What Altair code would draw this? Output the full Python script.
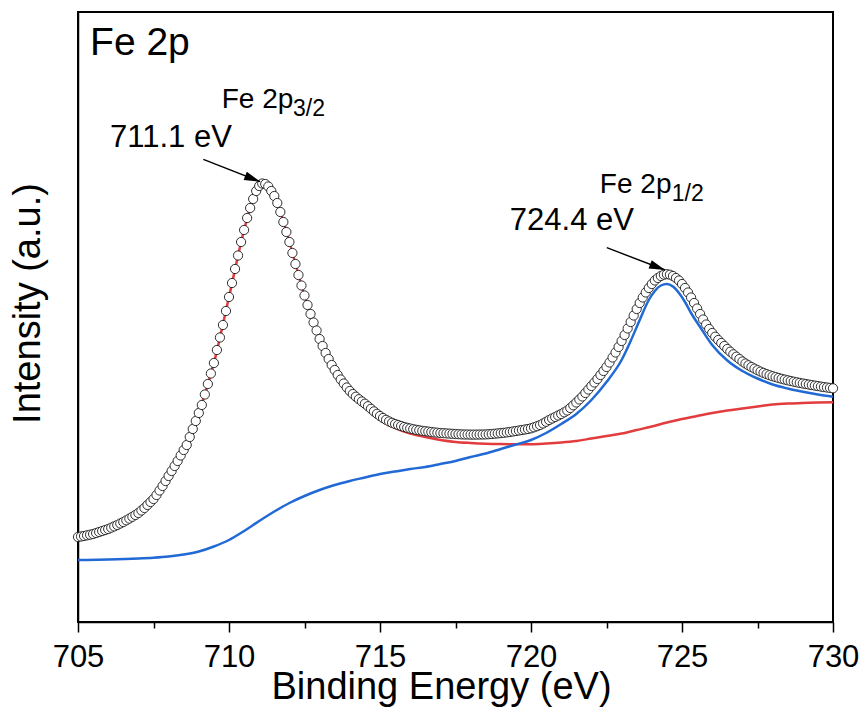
import altair as alt
import pandas as pd

# ---- measured spectrum (open circles), 0.1 eV sampling from 705.0 eV ----
energy_start = 705.0
energy_step = 0.1
intensity = [
    85, 85.5, 86, 86.7, 87.3, 88, 89, 90, 91, 92,                       # 705
    93, 94.3, 95.6, 97, 98.5, 100, 101.7, 103.4, 105.2, 107,            # 706
    109, 111.5, 114, 117, 120, 123, 127, 131.5, 136, 141,               # 707
    146, 151, 156, 161, 166.5, 172, 177, 185, 193, 201,                 # 708
    209, 217, 227.5, 238, 248.5, 259, 272, 284.5, 297, 311,             # 709
    325, 339, 353, 366.5, 380, 392, 404, 414, 423, 431,                 # 710
    436, 438.5, 438, 435.5, 431, 426, 419, 410, 400, 390,               # 711
    380, 369, 358, 347, 336.5, 326.5, 317, 308, 299.5, 291.5,           # 712
    283, 276, 269, 263, 257, 252, 247, 242.5, 238.5, 234.5,             # 713
    231, 228, 225.3, 222.8, 220.5, 218.3, 215.8, 213.2, 210.6, 208.2,   # 714
    206, 204, 202.2, 200.6, 199.2, 198, 197, 196, 195, 194.2,           # 715
    193.5, 192.8, 192.2, 191.7, 191.2, 190.8, 190.4, 190, 189.6, 189.3, # 716
    189, 188.8, 188.6, 188.4, 188.2, 188, 187.8, 187.6, 187.5, 187.5,   # 717
    187.4, 187.4, 187.4, 187.5, 187.5, 187.6, 187.8, 188, 188.3, 188.6, # 718
    188.9, 189.2, 189.6, 190, 190.5, 191, 191.5, 192, 192.5, 193,       # 719
    193.7, 194.7, 195.8, 197, 198.5, 200.2, 202, 203.5, 205, 206.5,     # 720
    208, 209.7, 211.5, 214, 216.7, 219.5, 222.5, 225.5, 229, 232.5,     # 721
    236, 239.5, 243, 247, 251, 255, 259.5, 264.5, 269.5, 275,           # 722
    281, 287, 293.5, 300, 306.5, 313, 319, 324.5, 329.5, 334,           # 723
    338, 341.5, 344, 346, 347.3, 347.8, 347.3, 346, 344, 341.5,         # 724
    338, 334, 329.5, 324.5, 319, 313.5, 308, 302.5, 297.5, 293,         # 725
    289, 285.3, 282, 279, 276, 273, 270.3, 267.7, 265.3, 263,           # 726
    260.5, 258.5, 256.7, 255, 253.4, 251.8, 250.4, 249.1, 247.9, 246.8, # 727
    245.8, 244.9, 244, 243.2, 242.4, 241.7, 241, 240.3, 239.7, 239.1,   # 728
    238.5, 238, 237.4, 236.9, 236.4, 235.9, 235.4, 234.9, 234.5, 234.1, # 729
    233.7,                                                              # 730
]
energy = [round(energy_start + energy_step * i, 1) for i in range(len(intensity))]

# ---- red fitted curve ----
red_energy = [705, 706, 707, 707.5, 708, 708.5, 709, 709.5, 710, 710.5,
              710.8, 711.0, 711.2, 711.4, 711.7, 712, 712.5, 713, 713.5, 714,
              714.5, 715, 715.5, 716, 716.5, 717, 717.5, 718, 718.5, 719,
              719.5, 720, 720.5, 721, 721.5, 722, 722.5, 723, 723.5, 724,
              724.5, 725, 725.5, 726, 726.5, 727, 727.5, 728, 728.5, 729,
              729.5, 730]
red_value = [85, 93, 109, 123, 146, 172, 209, 259, 325, 392,
             423, 436, 438, 431, 410, 380, 326.5, 283, 252, 230,
             216, 202, 194, 188.5, 185, 182, 180, 179, 178.3, 177.9,
             177.7, 177.8, 178.5, 179.5, 181, 183.5, 186, 188.5, 192, 195.5,
             199.5, 203, 206, 209, 211.5, 213.5, 215.5, 217.5, 218.5, 219,
             219.5, 219.8]

# ---- blue fitted curve ----
blue_energy = [705, 706, 707, 707.5, 708, 708.5, 709, 709.5, 710, 710.5,
               711, 711.5, 712, 712.5, 713, 713.5, 714, 714.5, 715, 715.5,
               716, 716.5, 717, 717.5, 718, 718.5, 719, 719.5, 720, 720.5,
               721, 721.5, 722, 722.5, 723, 723.3, 723.6, 723.9, 724.1, 724.3,
               724.5, 724.7, 724.9, 725.1, 725.3, 725.6, 726, 726.5, 727, 727.5,
               728, 728.5, 729, 729.5, 730]
blue_value = [62, 62.5, 63.5, 64.3, 65.5, 67.5, 70.5, 75.5, 82, 91,
              101, 110.5, 119, 126, 132, 137, 141, 144.5, 148, 150.5,
              153, 155, 158, 161, 165, 168.5, 173, 177.5, 182, 189,
              198, 208, 222, 240, 262, 281, 302, 322, 331, 336.5,
              338, 335.5, 329, 320, 309, 295, 277, 261.5, 251, 243.5,
              237.5, 233.5, 230.3, 227.5, 225.3]

# ---- axis ticks ----
major_ticks = [705, 710, 715, 720, 725, 730]
minor_ticks = [707.5, 712.5, 717.5, 722.5, 727.5]

# ---- annotations (data coordinates) ----
panel_label = ["Fe 2p"]
panel_label_E = [705.4]
panel_label_I = [567]

peak_name = ["Fe 2p", "Fe 2p"]
peak_name_E = [709.76, 722.28]
peak_name_I = [513.7, 428.7]

peak_sub = ["3/2", "1/2"]
peak_sub_E = [712.12, 724.66]
peak_sub_I = [506.5, 421.5]

peak_ev = ["711.1 eV", "724.4 eV"]
peak_ev_E = [706.06, 719.30]
peak_ev_I = [475.3, 392]

arrow_E0 = [709.15, 722.51]
arrow_I0 = [462.7, 374.3]
arrow_E1 = [711.03, 724.44]
arrow_I1 = [440.3, 352]
arrow_angle = [21.5, 20.9]

FONT = "Liberation Sans"
RED = "#E23C3E"
BLUE = "#2169D4"

data_df = pd.DataFrame({"E": energy, "I": intensity})
red_df = pd.DataFrame({"E": red_energy, "I": red_value})
blue_df = pd.DataFrame({"E": blue_energy, "I": blue_value})
arrow_df = pd.DataFrame({"E0": arrow_E0, "I0": arrow_I0, "E1": arrow_E1,
                         "I1": arrow_I1, "a": arrow_angle})
panel_df = pd.DataFrame({"E": panel_label_E, "I": panel_label_I, "t": panel_label})
name_df = pd.DataFrame({"E": peak_name_E, "I": peak_name_I, "t": peak_name})
sub_df = pd.DataFrame({"E": peak_sub_E, "I": peak_sub_I, "t": peak_sub})
ev_df = pd.DataFrame({"E": peak_ev_E, "I": peak_ev_I, "t": peak_ev})

xs = alt.Scale(domain=[705, 730], nice=False, zero=False)
ys = alt.Scale(domain=[0, 610], nice=False, zero=False)

major_axis = alt.Axis(
    orient="bottom",
    values=major_ticks, format="d", grid=False,
    labelFont=FONT, labelFontSize=31, labelColor="black", labelPadding=10,
    labelFlush=False, labelOverlap=False,
    tickSize=10, tickWidth=1.5, tickColor="black",
    domain=True, domainColor="black", domainWidth=1.5,
    title="Binding Energy (eV)", titleFont=FONT, titleFontSize=38,
    titleFontWeight="normal", titleColor="black",
    titleX=363, titleY=76, titleAlign="center", titleBaseline="alphabetic",
)
minor_axis = alt.Axis(
    orient="bottom",
    values=minor_ticks, labels=False, grid=False, domain=False,
    tickSize=6, tickWidth=1.5, tickColor="black", title="",
)
y_axis = alt.Axis(
    orient="left",
    labels=False, ticks=False, grid=False,
    domain=True, domainColor="black", domainWidth=1.5,
    title="Intensity (a.u.)", titleFont=FONT, titleFontSize=38,
    titleFontWeight="normal", titleColor="black",
    titleAngle=270, titleX=-39, titleY=291, titleAlign="center",
    titleBaseline="alphabetic",
)

red = alt.Chart(red_df).mark_line(
    color=RED, strokeWidth=2.5, interpolate="monotone"
).encode(
    x=alt.X("E:Q", scale=xs, axis=minor_axis),
    y=alt.Y("I:Q", scale=ys, axis=None),
)

points = alt.Chart(data_df).mark_point(
    shape="circle", filled=True, fill="white", stroke="#1a1a1a",
    strokeWidth=0.9, size=85, opacity=1
).encode(
    x=alt.X("E:Q", scale=xs, axis=major_axis),
    y=alt.Y("I:Q", scale=ys, axis=y_axis),
)

blue = alt.Chart(blue_df).mark_line(
    color=BLUE, strokeWidth=2.5, interpolate="monotone"
).encode(
    x=alt.X("E:Q", scale=xs, axis=None),
    y=alt.Y("I:Q", scale=ys, axis=None),
)

arrow_lines = alt.Chart(arrow_df).mark_rule(color="black", strokeWidth=1.4).encode(
    x=alt.X("E0:Q", scale=xs, axis=None),
    y=alt.Y("I0:Q", scale=ys, axis=None),
    x2="E1:Q",
    y2="I1:Q",
)
arrow_heads = alt.Chart(arrow_df).mark_point(
    shape="M0,0 L-2,-0.55 L-2,0.55 Z", filled=True, color="black",
    size=256, opacity=1, strokeWidth=0
).encode(
    x=alt.X("E1:Q", scale=xs, axis=None),
    y=alt.Y("I1:Q", scale=ys, axis=None),
    angle=alt.Angle("a:Q", scale=None),
)


def text_layer(df, size):
    return alt.Chart(df).mark_text(
        align="left", baseline="alphabetic", font=FONT, fontSize=size,
        color="black"
    ).encode(
        x=alt.X("E:Q", scale=xs, axis=None),
        y=alt.Y("I:Q", scale=ys, axis=None),
        text="t:N",
    )


chart = alt.layer(
    red, points, blue, arrow_lines, arrow_heads,
    text_layer(panel_df, 39), text_layer(name_df, 28),
    text_layer(sub_df, 23), text_layer(ev_df, 31),
).resolve_axis(
    x="independent", y="independent"
).properties(
    width=755, height=610,
    padding={"left": 78, "top": 12, "right": 34, "bottom": 91},
    autosize=alt.AutoSizeParams(type="none"),
    background="white",
).configure(
    font=FONT
).configure_view(
    stroke="black", strokeWidth=2, strokeOpacity=1
)

chart.save("out.html", embed_options={"renderer": "svg", "actions": False})
